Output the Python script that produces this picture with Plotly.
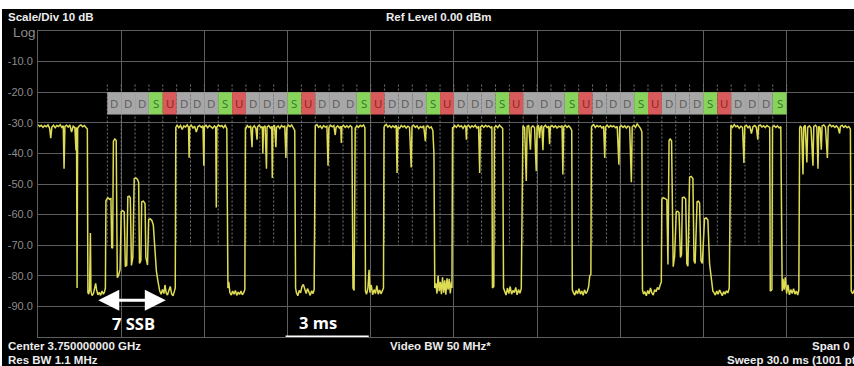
import plotly.graph_objects as go

# ---------------------------------------------------------------- figure frame
W, H = 854, 366
M_L, M_R, M_T, M_B = 38, 0, 31, 29

# ---------------------------------------------------------------- axis data
visible_end_ms = 29.43          # 30 ms sweep, right part runs off the screen
level_top_dbm = 0.0
level_bottom_dbm = -100.0
time_div_ms = 3.0
level_ticks = [-10, -20, -30, -40, -50, -60, -70, -80, -90]
level_tick_text = ["-10.0", "-20.0", "-30.0", "-40.0", "-50.0",
                   "-60.0", "-70.0", "-80.0", "-90.0"]

# ---------------------------------------------------------------- TDD slot map
slot_pattern = "DDDSUDDDSUDDDSUDDDSUDDDSUDDDSUDDDSUDDDSUDDDSUDDDS"
first_slot_ms = 2.5
slot_ms = 0.5
slot_bar_top_dbm = -20.0
slot_bar_bottom_dbm = -27.3
boundary_top_dbm = -17.5
boundary_bottom_dbm = -70.0

# ---------------------------------------------------------------- zero-span trace (ms, dBm)
dl_block_a = [
    (0.00, -30.6), (0.06, -31.2), (0.12, -30.8), (0.18, -31.5), (0.24, -30.9),
    (0.30, -31.3), (0.36, -30.7), (0.42, -31.8), (0.46, -35.0), (0.50, -31.4),
    (0.56, -30.8), (0.62, -31.6), (0.68, -30.9), (0.74, -31.2), (0.80, -30.6),
    (0.86, -31.5), (0.91, -31.0), (0.94, -45.0), (0.97, -31.2), (1.03, -30.8),
    (1.09, -31.4), (1.15, -30.7), (1.21, -33.0), (1.27, -31.1), (1.33, -31.6),
    (1.37, -39.0), (1.39, -31.5), (1.41, -84.0), (1.43, -31.8), (1.49, -31.0),
    (1.55, -30.7), (1.61, -31.3), (1.67, -30.9), (1.73, -31.4), (1.78, -32.0),
]
gap_a = [
    (1.80, -85.5), (1.83, -86.0), (1.86, -84.5), (1.89, -66.0), (1.91, -85.0),
    (1.95, -86.5), (2.00, -85.8), (2.05, -84.0), (2.08, -82.5), (2.11, -84.5),
    (2.16, -86.2), (2.21, -85.4), (2.26, -86.4), (2.31, -85.0), (2.36, -86.0),
    (2.40, -85.2), (2.43, -84.0),
]
ssb_burst_1 = [
    (2.45, -55.5), (2.52, -54.5), (2.58, -55.0), (2.63, -54.8), (2.66, -70.8),
    (2.69, -71.0), (2.72, -36.0), (2.77, -35.3), (2.82, -35.8), (2.86, -80.6),
    (2.90, -80.0), (2.96, -78.0), (3.00, -59.0), (3.05, -58.7), (3.11, -59.2),
    (3.15, -77.0), (3.20, -76.5), (3.24, -54.2), (3.29, -54.0), (3.33, -54.6),
    (3.37, -76.6), (3.42, -74.0), (3.47, -48.3), (3.53, -48.0), (3.59, -48.5),
    (3.63, -49.5), (3.66, -76.0), (3.71, -75.0), (3.74, -55.8), (3.80, -55.6),
    (3.86, -56.4), (3.89, -74.0), (3.95, -76.5), (3.99, -61.6), (4.05, -61.4),
    (4.11, -62.0), (4.16, -63.5), (4.22, -72.0), (4.27, -78.5), (4.33, -82.0),
    (4.39, -85.0),
]
gap_b = [
    (4.44, -86.0), (4.49, -84.5), (4.54, -85.8), (4.58, -83.0), (4.62, -85.5),
    (4.67, -86.3), (4.72, -84.8), (4.77, -83.5), (4.82, -85.9), (4.87, -86.5),
    (4.92, -85.0), (4.95, -84.0),
]
dl_block_b = [
    (4.97, -31.5), (5.02, -30.8), (5.08, -31.6), (5.14, -30.9), (5.20, -32.2),
    (5.26, -31.0), (5.32, -31.4), (5.38, -30.7), (5.43, -31.5), (5.45, -41.4),
    (5.47, -31.3), (5.53, -30.8), (5.59, -31.7), (5.65, -31.1), (5.71, -33.0),
    (5.77, -31.2), (5.83, -30.9), (5.89, -31.5), (5.95, -31.0), (5.98, -44.0),
    (6.00, -31.4), (6.06, -30.8), (6.12, -31.6), (6.18, -30.9), (6.24, -31.3),
    (6.30, -31.8), (6.36, -31.0), (6.41, -31.5), (6.43, -57.7), (6.45, -31.4),
    (6.51, -30.7), (6.57, -31.2), (6.63, -30.9), (6.69, -31.6), (6.75, -30.8),
    (6.81, -31.9),
]
gap_c = [
    (6.85, -84.0), (6.88, -82.0), (6.92, -85.5), (6.97, -86.3), (7.02, -85.0),
    (7.07, -86.0), (7.12, -84.8), (7.17, -86.4), (7.22, -85.3), (7.27, -86.1),
    (7.32, -85.0), (7.37, -86.2), (7.42, -85.5), (7.46, -84.5),
]
dl_block_c = [
    (7.48, -31.5), (7.50, -31.8), (7.55, -30.9), (7.61, -31.5), (7.67, -31.0),
    (7.72, -38.0), (7.74, -31.6), (7.80, -31.0), (7.86, -31.9), (7.90, -35.5),
    (7.92, -31.3), (7.98, -30.8), (8.04, -31.6), (8.09, -31.2), (8.11, -40.0),
    (8.13, -31.5), (8.19, -31.0), (8.24, -45.0), (8.26, -31.4), (8.32, -30.9),
    (8.38, -31.7), (8.43, -31.2), (8.45, -48.0), (8.47, -31.3), (8.53, -30.8),
    (8.58, -38.0), (8.60, -31.5), (8.66, -31.0), (8.72, -31.8), (8.78, -30.9),
    (8.84, -31.4), (8.90, -31.0), (8.94, -41.5), (8.97, -31.6), (9.03, -30.8),
    (9.09, -31.3), (9.15, -30.7), (9.21, -31.5), (9.26, -32.5),
]
gap_d = [
    (9.29, -84.0), (9.32, -85.5), (9.37, -86.5), (9.42, -84.8), (9.47, -85.6),
    (9.52, -83.5), (9.57, -82.8), (9.62, -84.0), (9.67, -85.8), (9.72, -84.2),
    (9.77, -85.5), (9.82, -86.4), (9.87, -84.9), (9.92, -85.8), (9.96, -84.5),
]
dl_block_d = [
    (9.98, -31.8), (10.00, -31.0), (10.06, -30.6), (10.12, -31.5), (10.18, -31.0),
    (10.24, -31.8), (10.30, -30.9), (10.36, -31.4), (10.42, -31.1), (10.46, -44.0),
    (10.49, -31.6), (10.55, -30.8), (10.61, -31.3), (10.67, -30.9), (10.72, -34.0),
    (10.75, -31.5), (10.81, -31.0), (10.87, -31.7), (10.92, -31.1), (10.94, -36.6),
    (10.96, -31.3), (11.02, -30.8), (11.08, -31.5), (11.14, -31.0), (11.20, -31.6),
    (11.26, -30.9), (11.32, -31.4), (11.36, -84.0), (11.40, -84.8), (11.44, -31.8),
    (11.50, -31.0), (11.56, -31.5), (11.62, -30.8), (11.68, -31.2), (11.74, -30.7),
    (11.79, -31.6),
]
gap_e = [
    (11.81, -85.0), (11.85, -86.0), (11.90, -84.0), (11.94, -78.0), (11.97, -85.5),
    (12.02, -83.0), (12.07, -86.2), (12.12, -84.5), (12.17, -85.8), (12.22, -83.2),
    (12.27, -86.0), (12.32, -84.6), (12.37, -85.9), (12.42, -85.0), (12.46, -84.0),
]
dl_block_e = [
    (12.48, -31.5), (12.50, -31.0), (12.56, -30.5), (12.62, -31.4), (12.68, -30.9),
    (12.74, -31.6), (12.80, -31.0), (12.86, -31.5), (12.92, -30.8), (12.95, -46.4),
    (12.98, -31.3), (13.04, -31.8), (13.10, -30.9), (13.16, -31.4), (13.22, -31.0),
    (13.28, -31.7), (13.34, -31.1), (13.40, -31.5), (13.46, -44.6), (13.49, -31.2),
    (13.55, -30.8), (13.61, -31.5), (13.67, -31.0), (13.73, -31.9), (13.79, -31.2),
    (13.85, -31.6), (13.91, -31.0), (13.97, -36.0), (14.00, -31.4), (14.06, -31.0),
    (14.12, -31.7), (14.18, -31.3), (14.24, -32.5), (14.28, -40.0),
]
gap_f = [
    (14.31, -84.0), (14.35, -82.5), (14.39, -85.8), (14.43, -80.0), (14.47, -85.0),
    (14.51, -82.0), (14.55, -86.0), (14.59, -80.5), (14.63, -85.5), (14.67, -81.5),
    (14.71, -86.2), (14.75, -80.8), (14.79, -84.5), (14.83, -81.0), (14.87, -85.8),
    (14.91, -82.0), (14.93, -84.0),
]
dl_block_f = [
    (14.95, -31.4), (14.97, -31.8), (15.03, -30.9), (15.09, -31.5), (15.15, -30.7),
    (15.21, -31.3), (15.27, -31.0), (15.33, -31.8), (15.39, -30.9), (15.43, -31.4),
    (15.45, -35.5), (15.47, -31.2), (15.53, -30.8), (15.59, -31.6), (15.65, -31.0),
    (15.71, -31.4), (15.77, -30.8), (15.83, -31.7), (15.89, -31.1), (15.93, -46.4),
    (15.96, -31.3), (16.02, -30.9), (16.08, -31.5), (16.14, -30.8), (16.20, -31.3),
    (16.26, -31.0), (16.32, -31.6), (16.37, -31.2), (16.39, -84.0), (16.44, -83.5),
    (16.46, -31.5), (16.52, -31.0), (16.58, -31.6), (16.64, -30.8), (16.70, -31.3),
    (16.76, -31.9),
]
gap_g = [
    (16.79, -84.0), (16.83, -85.0), (16.88, -86.3), (16.93, -84.0), (16.98, -85.8),
    (17.03, -83.5), (17.08, -86.0), (17.13, -84.8), (17.18, -85.5), (17.23, -83.8),
    (17.28, -86.2), (17.33, -84.5), (17.38, -85.7), (17.43, -84.2),
]
dl_block_g = [
    (17.47, -31.5), (17.49, -31.0), (17.55, -31.6), (17.61, -49.0), (17.64, -31.2),
    (17.70, -30.8), (17.76, -38.8), (17.79, -31.5), (17.85, -31.0), (17.91, -31.6),
    (17.97, -45.8), (18.00, -31.3), (18.05, -31.0), (18.09, -35.0), (18.12, -31.5),
    (18.17, -30.9), (18.21, -39.0), (18.24, -31.4), (18.30, -30.8), (18.36, -31.6),
    (18.42, -31.1), (18.45, -37.0), (18.48, -31.3), (18.54, -30.9), (18.60, -31.5),
    (18.66, -31.0), (18.72, -31.7), (18.78, -31.1), (18.84, -31.4), (18.90, -30.9),
    (18.93, -46.9), (18.96, -31.3), (19.02, -30.8), (19.08, -31.5), (19.14, -31.0),
    (19.20, -31.6), (19.25, -32.5),
]
gap_h = [
    (19.27, -84.5), (19.31, -85.5), (19.36, -86.3), (19.41, -84.8), (19.46, -85.9),
    (19.51, -84.2), (19.56, -86.0), (19.61, -85.0), (19.66, -86.4), (19.71, -84.6),
    (19.76, -85.8), (19.81, -85.1), (19.86, -83.5), (19.90, -80.0), (19.94, -79.5),
]
dl_block_h = [
    (19.96, -31.5), (19.98, -31.0), (20.04, -30.6), (20.10, -31.5), (20.16, -30.9),
    (20.22, -31.3), (20.28, -31.0), (20.34, -31.7), (20.40, -31.1), (20.44, -41.5),
    (20.47, -31.4), (20.53, -30.8), (20.59, -31.5), (20.65, -30.9), (20.71, -31.3),
    (20.77, -31.0), (20.83, -31.6), (20.89, -31.2), (20.95, -43.7), (20.98, -31.4),
    (21.04, -30.9), (21.10, -31.5), (21.16, -31.0), (21.22, -31.7), (21.28, -31.1),
    (21.34, -31.4), (21.40, -49.4), (21.43, -31.3), (21.49, -30.8), (21.55, -31.5),
    (21.61, -30.4), (21.67, -31.2), (21.73, -31.8), (21.78, -33.0),
]
gap_i = [
    (21.80, -84.5), (21.84, -86.0), (21.89, -85.2), (21.94, -86.5), (21.99, -84.8),
    (22.04, -85.9), (22.09, -84.0), (22.14, -85.6), (22.19, -86.3), (22.24, -84.5),
    (22.29, -85.2), (22.34, -83.8), (22.39, -84.5), (22.44, -83.0), (22.48, -82.0),
]
ssb_burst_2 = [
    (22.50, -55.0), (22.55, -54.5), (22.62, -54.8), (22.68, -55.2), (22.72, -76.3),
    (22.76, -35.8), (22.80, -35.3), (22.85, -35.9), (22.91, -77.0), (22.96, -73.6),
    (23.02, -59.0), (23.07, -58.9), (23.12, -59.4), (23.17, -74.0), (23.21, -73.0),
    (23.24, -54.5), (23.30, -54.3), (23.36, -54.9), (23.40, -76.0), (23.44, -76.9),
    (23.50, -47.8), (23.56, -47.5), (23.62, -48.2), (23.66, -75.0), (23.70, -76.0),
    (23.77, -55.8), (23.82, -55.6), (23.86, -56.2), (23.91, -75.0), (23.96, -76.0),
    (24.04, -61.3), (24.10, -61.1), (24.16, -61.8), (24.22, -76.0), (24.28, -80.5),
    (24.34, -85.0),
]
gap_j = [
    (24.38, -85.5), (24.43, -86.3), (24.48, -85.0), (24.53, -86.0), (24.58, -84.6),
    (24.63, -85.8), (24.68, -86.5), (24.73, -85.2), (24.78, -86.0), (24.83, -84.9),
    (24.88, -85.6), (24.93, -84.0),
]
dl_block_j = [
    (24.97, -31.2), (24.99, -30.8), (25.05, -31.5), (25.11, -30.6), (25.17, -31.3),
    (25.23, -31.0), (25.29, -31.8), (25.35, -31.1), (25.41, -31.5), (25.46, -43.1),
    (25.49, -31.2), (25.55, -30.8), (25.61, -31.6), (25.67, -31.0), (25.73, -33.5),
    (25.79, -31.2), (25.85, -30.9), (25.91, -31.5), (25.96, -35.5), (25.99, -31.0),
    (26.05, -30.7), (26.11, -31.4), (26.17, -31.0), (26.23, -31.6), (26.29, -30.9),
    (26.35, -31.3), (26.39, -31.5), (26.41, -85.0), (26.47, -84.5), (26.49, -31.4),
    (26.55, -30.9), (26.61, -31.5), (26.67, -31.0), (26.73, -31.7), (26.79, -31.2),
]
gap_k = [
    (26.84, -85.0), (26.87, -81.0), (26.91, -84.5), (26.95, -80.5), (27.00, -85.8),
    (27.05, -83.0), (27.10, -86.2), (27.15, -84.5), (27.20, -85.8), (27.25, -84.2),
    (27.30, -86.0), (27.35, -85.0), (27.40, -86.3), (27.44, -84.8),
]
dl_block_k = [
    (27.47, -31.8), (27.49, -31.0), (27.54, -31.6), (27.59, -46.9), (27.62, -31.3),
    (27.67, -30.8), (27.73, -43.0), (27.76, -31.5), (27.82, -31.0), (27.88, -31.7),
    (27.95, -44.0), (27.98, -31.2), (28.04, -30.8), (28.09, -31.4), (28.13, -45.0),
    (28.16, -31.1), (28.21, -31.6), (28.25, -38.8), (28.28, -31.0), (28.34, -30.7),
    (28.40, -31.4), (28.47, -41.5), (28.50, -31.2), (28.56, -30.6), (28.62, -31.3),
    (28.68, -30.9), (28.74, -31.5), (28.80, -31.0), (28.86, -31.7), (28.91, -33.5),
    (28.94, -31.2), (29.00, -30.8), (29.06, -31.5), (29.12, -31.0), (29.18, -31.6),
    (29.24, -31.2), (29.30, -32.0),
]
gap_l = [
    (29.33, -85.0), (29.38, -85.8), (29.45, -84.5), (29.55, -85.5), (29.70, -84.8),
]

segments = [dl_block_a, gap_a, ssb_burst_1, gap_b, dl_block_b, gap_c, dl_block_c,
            gap_d, dl_block_d, gap_e, dl_block_e, gap_f, dl_block_f, gap_g,
            dl_block_g, gap_h, dl_block_h, gap_i, ssb_burst_2, gap_j, dl_block_j,
            gap_k, dl_block_k, gap_l]
sweep_ms = [p[0] for seg in segments for p in seg]
level_dbm = [p[1] for seg in segments for p in seg]

# ---------------------------------------------------------------- styling
BG = "#000000"
GRID = "#5e5e5e"
TRACE = "#dedc55"
LABEL = "#8c8c8c"
TEXT = "#ececec"
FONT = "Liberation Sans, Arial, sans-serif"
slot_fill = {"D": "#a7a7a7", "S": "#88d35c", "U": "#d85a5a"}
slot_text = {"D": "#5a5a5a", "S": "#2f7a22", "U": "#8c1e1e"}

plot_w = W - M_L - M_R
plot_h = H - M_T - M_B


def px_x(x):
    return (x - M_L) / plot_w


def px_y(y):
    return (H - M_B - y) / plot_h


fig = go.Figure()

# slot boundary markers (dotted)
bx, by = [], []
for k in range(len(slot_pattern) + 1):
    t = first_slot_ms + k * slot_ms
    bx += [t, t, None]
    by += [boundary_top_dbm, boundary_bottom_dbm, None]
fig.add_trace(go.Scatter(x=bx, y=by, mode="lines", hoverinfo="skip",
                         line=dict(color="#767676", width=1, dash="2px,2px")))

# measured trace
fig.add_trace(go.Scatter(x=sweep_ms, y=level_dbm, mode="lines", hoverinfo="skip",
                         line=dict(color=TRACE, width=1.5)))

shapes = []
annotations = []

# slot bar
for k, kind in enumerate(slot_pattern):
    t0 = first_slot_ms + k * slot_ms
    shapes.append(dict(type="rect", xref="x", yref="y", layer="above",
                       x0=t0, x1=t0 + slot_ms,
                       y0=slot_bar_bottom_dbm, y1=slot_bar_top_dbm,
                       fillcolor=slot_fill[kind], line=dict(width=0)))
    annotations.append(dict(xref="x", yref="y", x=t0 + slot_ms / 2,
                            y=(slot_bar_top_dbm + slot_bar_bottom_dbm) / 2,
                            text=kind, showarrow=False,
                            font=dict(family="Open Sans, Arial, sans-serif",
                                      size=11.5, color=slot_text[kind])))

# 3 ms scale bar
bar_start_ms = 8.93
shapes.append(dict(type="line", xref="x", yref="y", layer="above",
                   x0=bar_start_ms, x1=bar_start_ms + time_div_ms,
                   y0=level_bottom_dbm, y1=level_bottom_dbm,
                   line=dict(color="#ffffff", width=3)))

# white margin strips of the screen capture (boxes drawn as empty notes)
annotations.append(dict(xref="paper", yref="paper", x=px_x(0), y=px_y(0),
                        xanchor="left", yanchor="top", showarrow=False,
                        text=" ", width=W, height=9, borderpad=0, borderwidth=0,
                        bgcolor="#ffffff", font=dict(size=1)))
annotations.append(dict(xref="paper", yref="paper", x=px_x(0), y=px_y(0),
                        xanchor="left", yanchor="top", showarrow=False,
                        text=" ", width=2, height=H, borderpad=0, borderwidth=0,
                        bgcolor="#ffffff", font=dict(size=1)))


def label(text, x, y, anchor="left", size=11.5, color=TEXT, bold=True, family=FONT):
    annotations.append(dict(xref="paper", yref="paper", x=px_x(x), y=px_y(y),
                            xanchor=anchor, yanchor="middle", showarrow=False,
                            text=f"<b>{text}</b>" if bold else text,
                            font=dict(family=family, size=size, color=color)))


label("Scale/Div 10 dB", 6, 17)
label("Ref Level 0.00 dBm", 438, 17, anchor="center")
label("Log", 11, 33, size=13.5, color=LABEL, bold=False)
label("Center 3.750000000 GHz", 6, 346)
label("Res BW 1.1 MHz", 6, 360)
label("Video BW 50 MHz*", 440, 346, anchor="center")
label("Span 0", 852, 346, anchor="right")
label("Sweep 30.0 ms (1001 pts)", 725, 360)
label("7 SSB", 133, 323, anchor="center", size=16.5, color="#ffffff",
      family="Open Sans, Arial, sans-serif")
label("3 ms", 318, 322, anchor="center", size=16.5, color="#ffffff",
      family="Open Sans, Arial, sans-serif")

# double arrow spanning the SSB burst
annotations.append(dict(xref="x", yref="y", axref="x", ayref="y",
                        x=4.61, y=-88.0, ax=2.12, ay=-88.0, text="",
                        showarrow=True, arrowside="end+start", arrowhead=2,
                        arrowsize=1.4, arrowwidth=3, arrowcolor="#ffffff"))

fig.update_layout(
    width=W, height=H,
    margin=dict(l=M_L, r=M_R, t=M_T, b=M_B, pad=0),
    paper_bgcolor=BG, plot_bgcolor=BG,
    showlegend=False,
    shapes=shapes, annotations=annotations,
    font=dict(family=FONT, color=LABEL, size=11),
)
fig.update_xaxes(range=[0, visible_end_ms], dtick=time_div_ms, tick0=0,
                 showgrid=True, gridcolor=GRID, gridwidth=1,
                 showline=True, linecolor=GRID, linewidth=1, mirror=True,
                 showticklabels=False, ticks="", zeroline=False, fixedrange=True)
fig.update_yaxes(range=[level_bottom_dbm, level_top_dbm],
                 tickvals=level_ticks, ticktext=level_tick_text,
                 showgrid=True, gridcolor=GRID, gridwidth=1,
                 showline=True, linecolor=GRID, linewidth=1, mirror=True,
                 ticks="", ticklabelstandoff=2,
                 tickfont=dict(family=FONT, size=11, color=LABEL),
                 zeroline=False, fixedrange=True)

fig.write_html("out.html", config={"displayModeBar": False})
